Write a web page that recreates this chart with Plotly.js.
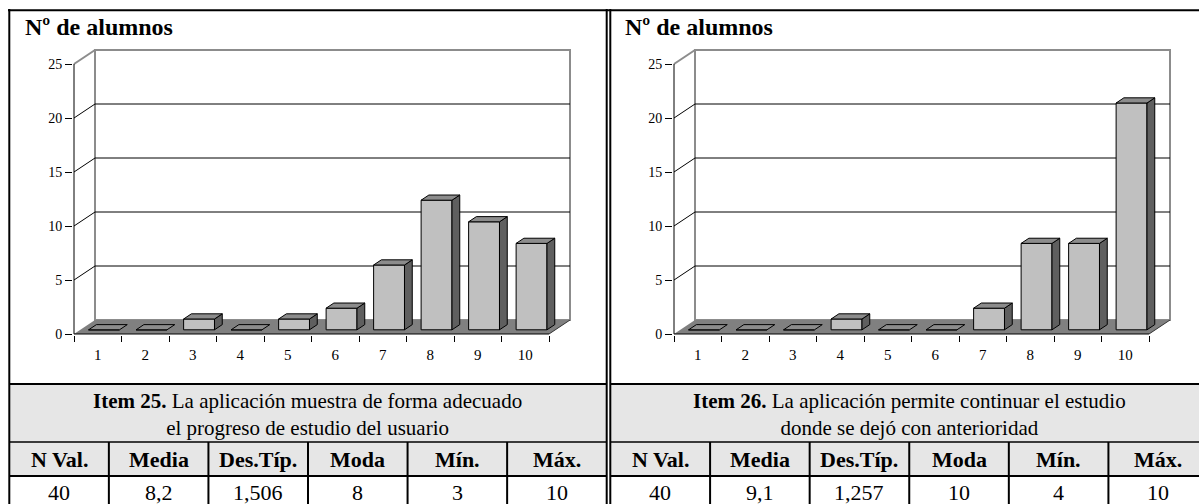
<!DOCTYPE html>
<html><head><meta charset="utf-8">
<script src="https://cdn.plot.ly/plotly-3.0.1.min.js"></script>
<style>html,body{margin:0;padding:0;overflow:hidden;background:#fff}#chart{width:1210px;height:512px}</style>
</head><body><div id="chart"></div>
<script>
// ---------- data ----------
const categories = [1,2,3,4,5,6,7,8,9,10];
const tickLabels = ['1','2','3','4','5','6','7','8','9','10'];
const item25Counts = [0,0,1,0,1,2,6,12,10,8];
const item26Counts = [0,0,0,1,0,0,2,8,8,21];
const yTickValues = [0,5,10,15,20,25];
const yTitleText = 'Nº de alumnos';
const statLabels = ['N Val.','Media','Des.Típ.','Moda','Mín.','Máx.'];
const item25Stats = ['40','8,2','1,506','8','3','10'];
const item26Stats = ['40','9,1','1,257','10','4','10'];
const item25Bold = 'Item 25.';
const item25Text = ['La aplicación muestra de forma adecuado','el progreso de estudio del usuario'];
const item26Bold = 'Item 26.';
const item26Text = ['La aplicación permite continuar el estudio','donde se dejó con anterioridad'];

// ---------- geometry / style ----------
const W = 1210, H = 512;
const FONT = '"Liberation Serif", serif';
const PXX = 47.5, PXY = 10.8, DXP = 21, DYP = 14;
const DX = DXP / PXX, DY = DYP / PXY;
const FRONT = 0.3, DEPTH = 0.37, BW = 0.65;
const N = categories.length;
const YMAX = yTickValues[yTickValues.length - 1];
const OY = 334;
const px = v => v / W, py = v => 1 - v / H;

const panels = [
  {counts: item25Counts, stats: item25Stats, bold: item25Bold, text: item25Text, ox: 74, left: 9.3, right: 606.7},
  {counts: item26Counts, stats: item26Stats, bold: item26Bold, text: item26Text, ox: 674, left: 610.5, right: 1208}
];

const traces = [], shapes = [], annotations = [];
const layout = {
  width: W, height: H, margin: {l: 0, r: 0, t: 0, b: 0},
  paper_bgcolor: '#fff', plot_bgcolor: 'rgba(0,0,0,0)', showlegend: false,
  barmode: 'overlay'
};

function pline(x0, y0, x1, y1, w, color) {
  shapes.push({type: 'line', xref: 'paper', yref: 'paper', x0: px(x0), y0: py(y0), x1: px(x1), y1: py(y1),
    line: {color: color || '#000', width: w}, layer: 'above'});
}

panels.forEach((p, i) => {
  const xs = i ? 'x2' : 'x', ys = i ? 'y2' : 'y';
  const xk = i ? 'xaxis2' : 'xaxis', yk = i ? 'yaxis2' : 'yaxis';
  const x0 = categories[0] - 0.5, x1 = categories[N - 1] + 0.5;

  layout[xk] = {
    domain: [px(p.ox - 1), px(p.ox + N * PXX + DXP + 3)],
    range: [x0 - 1 / PXX, x1 + (DXP + 3) / PXX],
    anchor: ys, tickmode: 'array', tickvals: categories, ticktext: tickLabels,
    ticks: 'outside', ticklen: 6, tickcolor: 'rgba(0,0,0,0)',
    minor: {tickmode: 'array', tickvals: categories.map(c => c - 0.5).concat([x1]),
            ticks: 'outside', ticklen: 6, tickwidth: 1, tickcolor: '#000', showgrid: false},
    showgrid: false, zeroline: false, showline: false, fixedrange: true,
    tickfont: {family: FONT, size: 15, color: '#000'}
  };
  layout[yk] = {
    domain: [py(OY + 1), py(OY - YMAX * PXY - DYP - 3)],
    range: [-1 / PXY, YMAX + (DYP + 3) / PXY],
    anchor: xs, tickmode: 'array', tickvals: yTickValues, ticktext: yTickValues.map(String),
    ticks: 'outside', ticklen: 7, tickwidth: 1, tickcolor: '#000',
    showgrid: false, zeroline: false, showline: false, fixedrange: true,
    tickfont: {family: FONT, size: 14, color: '#000'}
  };

  const dshape = (o) => Object.assign({xref: xs, yref: ys, layer: 'below'}, o);
  // back wall
  shapes.push(dshape({type: 'rect', x0: x0 + DX, x1: x1 + DX, y0: DY, y1: YMAX + DY,
    line: {color: '#8C8C8C', width: 2}, fillcolor: 'rgba(0,0,0,0)'}));
  // gridlines on side + back wall
  yTickValues.filter(v => v > 0 && v < YMAX).forEach(v => {
    shapes.push(dshape({type: 'path', path: `M ${x0},${v} L ${x0 + DX},${v + DY} L ${x1 + DX},${v + DY}`,
      line: {color: '#000', width: 1}}));
  });
  shapes.push(dshape({type: 'line', x0: x0, y0: YMAX, x1: x0 + DX, y1: YMAX + DY, line: {color: '#8C8C8C', width: 2}}));
  // floor
  shapes.push(dshape({type: 'path', path: `M ${x0},0 L ${x1},0 L ${x1 + DX},${DY} L ${x0 + DX},${DY} Z`,
    fillcolor: '#808080', line: {width: 0}}));
  shapes.push(dshape({type: 'line', x0: x1, y0: 0, x1: x1 + DX, y1: DY, line: {color: '#333', width: 1}}));
  // axes lines
  shapes.push(dshape({type: 'line', x0: x0, y0: 0, x1: x0, y1: YMAX, line: {color: '#000', width: 1}}));
  shapes.push(dshape({type: 'line', x0: x0, y0: 0, x1: x1, y1: 0, line: {color: '#000', width: 1}}));

  // bars (front faces)
  const fx = FRONT * DX, fy = FRONT * DY, ddx = DEPTH * DX, ddy = DEPTH * DY;
  traces.push({type: 'bar', xaxis: xs, yaxis: ys, x: categories.map(c => c + fx), y: p.counts,
    base: fy, width: BW, marker: {color: '#C0C0C0', line: {color: '#000', width: 1}}, hoverinfo: 'skip'});
  // top and side faces computed from values
  const tx = [], ty = [], sx = [], sy = [];
  categories.forEach((c, k) => {
    const v = p.counts[k];
    const xl = c + fx - BW / 2, xr = xl + BW, yb = fy, yt = fy + v;
    tx.push(xl, xr, xr + ddx, xl + ddx, xl, null);
    ty.push(yt, yt, yt + ddy, yt + ddy, yt, null);
    if (v > 0) {
      sx.push(xr, xr + ddx, xr + ddx, xr, xr, null);
      sy.push(yb, yb + ddy, yt + ddy, yt, yb, null);
    }
  });
  traces.push({type: 'scatter', mode: 'lines', xaxis: xs, yaxis: ys, x: sx, y: sy, fill: 'toself',
    fillcolor: '#5F5F5F', line: {color: '#000', width: 1}, hoverinfo: 'skip'});
  traces.push({type: 'scatter', mode: 'lines', xaxis: xs, yaxis: ys, x: tx, y: ty, fill: 'toself',
    fillcolor: '#8C8C8C', line: {color: '#000', width: 1}, hoverinfo: 'skip'});

  // title
  annotations.push({xref: 'paper', yref: 'paper', x: px(p.ox - 51), y: py(27), xanchor: 'left', yanchor: 'middle',
    text: `<b>${yTitleText}</b>`, showarrow: false, font: {family: FONT, size: 24, color: '#000'}});

  // table
  const colW = (p.right - p.left) / statLabels.length;
  shapes.push({type: 'rect', xref: 'paper', yref: 'paper', x0: px(p.left), x1: px(p.right), y0: py(384), y1: py(476),
    fillcolor: '#E6E6E6', line: {width: 0}, layer: 'below'});
  pline(p.left, 384, p.right, 384, 2);
  pline(p.left, 442, p.right, 442, 1.5);
  pline(p.left, 476, p.right, 476, 2);
  for (let k = 1; k < statLabels.length; k++) pline(p.left + k * colW, 442, p.left + k * colW, H, 2);
  annotations.push({xref: 'paper', yref: 'paper', x: px((p.left + p.right) / 2), y: py(414), xanchor: 'center', yanchor: 'middle',
    text: `<b>${p.bold}</b> ${p.text[0]}<br>${p.text[1]}`, showarrow: false, align: 'center',
    font: {family: FONT, size: 21, color: '#000'}});
  statLabels.forEach((s, k) => {
    const cx = p.left + (k + 0.5) * colW;
    annotations.push({xref: 'paper', yref: 'paper', x: px(cx), y: py(459), xanchor: 'center', yanchor: 'middle',
      text: `<b>${s}</b>`, showarrow: false, font: {family: FONT, size: 22, color: '#000'}});
    annotations.push({xref: 'paper', yref: 'paper', x: px(cx), y: py(492), xanchor: 'center', yanchor: 'middle',
      text: p.stats[k], showarrow: false, font: {family: FONT, size: 22, color: '#000'}});
  });
});

// outer frame
pline(9.3, 9, 9.3, H, 2);
pline(8, 10.3, W, 10.3, 2);
pline(606.7, 9, 606.7, H, 2);
pline(610.3, 9, 610.3, H, 2);
pline(1208, 9, 1208, H, 2);

layout.shapes = shapes;
layout.annotations = annotations;
Plotly.newPlot('chart', traces, layout, {staticPlot: true, displayModeBar: false});
</script>
</body></html>
